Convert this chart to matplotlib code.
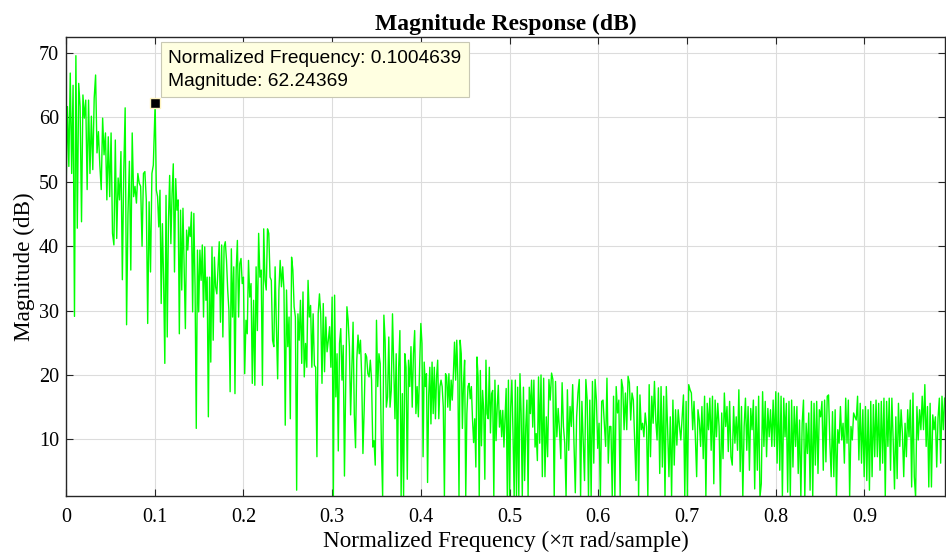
import numpy as np
import matplotlib
matplotlib.use("Agg")
import matplotlib.pyplot as plt

# datatip point
peak_freq = 0.1004639
peak_mag = 62.24369

# magnitude (dB), band by band
band_a = [48.2, 61.7, 52.4, 66.9, 51.3, 65.0, 29.1, 69.6, 42.8, 65.3, 61.7, 43.8, 63.5, 59.9, 62.7, 48.8,
          62.7, 51.3, 60.2, 51.9, 63.0, 66.6, 54.5, 57.8, 52.6, 48.8, 59.9, 54.2, 57.6, 47.2, 57.0, 47.7,
          57.6, 42.0, 40.2, 56.5, 41.2, 50.6, 47.2, 54.7, 34.8, 51.6, 61.5, 27.8, 45.1, 53.2, 36.3, 57.6,
          47.7, 49.3, 46.7, 51.3, 49.8, 49.3, 40.0, 51.3, 51.6, 47.2, 28.0, 46.9, 36.0, 51.3, 52.6]
band_b = [peak_mag, 48.7, 47.7, 43.0, 48.7, 31.1, 43.5, 34.7, 21.8, 47.9, 25.9, 43.8, 51.0, 40.4, 48.2, 52.8,
          36.0, 50.5, 45.6, 47.2, 26.4, 45.6, 33.2, 45.9, 36.8, 27.2, 42.5, 39.4, 43.0, 41.5, 45.3, 29.8,
          45.1, 33.7, 11.7, 39.4, 29.8, 39.4, 34.7, 40.2, 29.0, 39.9, 31.6, 35.2, 13.5, 35.2, 22.0, 39.9,
          25.4, 38.3, 33.7, 32.6, 36.8, 40.7, 28.2, 40.2, 25.9, 39.9, 40.7, 37.8, 33.2, 30.0, 17.4, 39.6,
          29.0, 36.8, 17.1, 36.3, 40.9, 29.0, 37.3, 38.1, 34.2]
band_c = [35.2, 20.2, 28.5, 26.4, 37.8, 32.1, 34.2, 18.7, 31.6, 18.4, 36.8, 26.9, 42.0, 35.2, 36.3, 18.4,
          42.7, 34.7, 33.2, 42.7, 42.0, 35.2, 34.7, 25.4, 24.4, 36.8, 27.5, 19.4, 33.2, 37.8, 33.7, 36.8,
          33.2, 12.2, 33.2, 24.4, 29.0, 13.2, 38.3, 36.3, 30.6, 29.0, 2.1, 29.5, 25.4, 31.6, 21.8, 32.9,
          19.7, 24.9, 21.2, 34.7, 29.0, 30.8, 21.2, 29.5, 21.5, 21.2, 7.3, 29.5, 32.6, 29.5, 18.7, 31.1,
          20.5, 29.0, 23.6, 25.4, 27.5, 21.2]
band_d = [32.1, 1.0, 32.4, 16.6, 23.3, 8.2, 24.9, 27.2, 19.2, 24.6, 4.3, 18.2, 30.6, 28.5, 24.4, 13.8,
          21.2, 28.2, 13.8, 8.7, 22.3, 26.2, 23.3, 25.4, 19.7, 7.8, 14.6, 23.3, 22.8, 20.2, 19.7, 22.3,
          19.2, 8.8, 9.8, 6.0, 28.5, 18.2, 23.3, 21.8, 8.8, 1.0, 29.3, 25.4, 15.0, 16.6, 25.9, 15.0,
          17.6, 29.5, 21.0, 13.2, 23.3, 4.3, 21.2, 26.9, 1.0, 17.1, 1.0, 23.3, 21.2, 3.8, 22.3, 18.2,
          24.4, 15.0, 23.3, 26.9, 14.0, 18.2, 13.5, 21.2]
band_e = [28.0, 24.9, 7.3, 22.0, 18.2, 20.2, 3.3, 16.8, 21.2, 12.4, 22.0, 14.0, 21.2, 13.2, 19.7, 22.3,
          13.2, 18.2, 19.2, 18.2, 15.0, 1.0, 20.2, 19.7, 15.0, 20.2, 14.5, 19.2, 16.1, 20.2, 25.1, 19.2,
          25.4, 19.2, 1.0, 25.4, 23.3, 11.7, 18.7, 22.3, 1.0, 14.0, 18.2, 18.7, 16.3, 18.2, 13.2, 9.5,
          13.2, 5.7, 22.8, 19.7, 1.0, 20.7, 9.0, 17.6, 14.5, 3.8, 22.3, 14.0, 13.2, 21.2, 11.0, 17.1,
          17.6, 1.0, 19.2, 9.8, 15.0, 18.4, 11.9, 14.5, 10.4, 14.5, 8.8, 13.2, 17.9, 1.0, 19.2]
band_f = [1.0, 15.0, 19.2, 10.9, 1.0, 19.2, 1.0, 18.1, 1.0, 20.2, 14.0, 1.0, 18.1, 3.6, 11.9, 16.1,
          1.0, 18.1, 14.0, 19.2, 11.9, 19.2, 8.8, 10.9, 6.7, 19.7]
band_g = [9.4, 20.0, 4.2, 19.5, 4.2, 13.5, 7.3, 19.3, 16.1, 20.3, 19.3, 1.0, 19.0, 10.4, 14.8, 11.5,
          7.0, 18.8, 12.0, 9.4, 1.0, 17.7, 8.3, 15.1, 12.0, 18.5, 9.4, 1.7, 13.5, 17.2, 19.3, 1.0,
          15.9, 9.9, 3.6, 19.3, 16.1, 1.0, 16.1, 1.0, 19.0, 6.3, 19.3, 16.1, 8.6, 12.5, 1.0, 15.9,
          16.1, 12.5, 8.9, 19.5, 6.3, 12.0, 12.0, 1.0, 16.7, 1.0, 18.2, 14.1, 16.1, 1.0, 19.3, 18.0,
          11.5, 17.2, 11.5, 19.8, 18.8, 13.0, 17.2, 16.1, 9.6, 3.6, 18.2, 1.0, 16.9, 11.5, 12.5, 10.4,
          14.1, 12.0, 1.0, 18.5, 7.3, 16.7, 12.5, 19.0, 13.0, 9.9, 18.0, 4.7, 18.2, 5.7, 16.7, 1.0,
          18.2, 11.5, 4.2, 13.5, 1.0, 16.1, 6.0, 14.6, 9.1, 14.6, 12.0, 9.9, 13.5, 16.9, 1.0, 15.9,
          1.0, 18.5, 17.7, 17.2, 11.5, 15.9, 10.4, 4.2, 14.6, 13.0, 8.9, 15.1, 7.0, 16.7, 1.0, 15.6,
          11.5, 16.4, 8.3, 16.7, 3.1, 16.1, 10.4, 15.6, 12.0, 1.0, 14.1, 7.0, 17.2, 12.0, 15.1, 8.1,
          15.9, 7.3, 6.0, 15.1, 9.4, 13.5, 8.3, 17.7, 5.0, 15.1, 1.0, 12.0, 16.4, 8.3, 15.1, 5.2,
          14.8, 11.5, 16.1, 2.3, 15.1, 5.2, 16.7, 1.0, 3.1, 17.4, 8.9, 15.9, 7.3, 14.8, 10.4, 14.6,
          8.9, 16.1, 8.9, 17.4, 6.3, 17.2, 5.2, 16.7, 1.0, 16.4, 10.4, 15.6, 1.8, 15.9, 1.0, 16.1,
          5.7, 15.1, 8.9, 15.1, 4.7, 13.0, 1.0, 12.5, 16.1, 1.0, 12.5, 7.8, 14.1, 2.1, 15.9, 1.0,
          15.6, 6.0, 15.9, 4.7, 14.6, 13.5, 15.9, 5.2, 16.1, 6.5, 16.7, 16.9, 9.4, 4.2, 14.3, 4.2,
          14.6, 1.0, 11.5, 9.4, 15.1, 9.9, 12.5, 6.3, 16.4, 9.4, 16.1, 1.0, 12.0, 9.9, 14.1, 13.5,
          13.0, 16.7, 6.8, 15.6, 6.3, 14.6, 4.2, 15.1, 3.6, 14.6, 2.1, 15.9, 4.2, 15.4, 7.3, 16.1,
          7.3, 15.6, 5.2, 15.9, 6.3, 16.4, 1.0, 15.9, 8.9, 16.4, 5.2, 16.4, 9.9, 2.3, 13.5, 3.9,
          15.6, 8.9, 14.6, 10.9, 4.2, 12.5, 7.3, 14.6, 10.4, 16.1, 2.6, 17.2, 4.2, 1.0, 15.1, 9.9,
          14.6, 11.5, 16.7, 11.5, 18.5, 8.9, 15.1, 2.6, 15.6, 2.6, 13.8, 11.5, 13.5, 5.7, 13.3, 16.4,
          6.3, 16.7, 11.5, 16.4]

# frequency span of each band (x pi rad/sample)
band_starts = [0.0, peak_freq, 0.2, 0.3, 0.4, 0.5, 0.534]
band_ends = [0.1, 0.2, 0.3, 0.4, 0.5, 0.534, 0.992]
bands = [band_a, band_b, band_c, band_d, band_e, band_f, band_g]

freq = np.concatenate([np.linspace(s, e, len(b), endpoint=False)
                       for s, e, b in zip(band_starts, band_ends, bands)])
mag = np.concatenate([np.array(b) for b in bands])

serif = ['Liberation Serif', 'DejaVu Serif']

fig = plt.figure(figsize=(9.46, 5.55), dpi=100)
ax = fig.add_axes([0.0698, 0.1063, 0.9292, 0.827])

ax.plot(freq, mag, color='#00ff00', lw=1.0)

ax.set_xlim(0, 0.991)
ax.set_ylim(1.2, 72.5)
ax.set_xticks(np.arange(0, 1.0, 0.1))
ax.set_xticklabels(['0', '0.1', '0.2', '0.3', '0.4', '0.5', '0.6', '0.7', '0.8', '0.9'])
ax.set_yticks(np.arange(10, 71, 10))

ax.grid(True, color='#dcdcdc', lw=0.8)
ax.set_axisbelow(True)
ax.tick_params(direction='in', top=True, right=True, length=5, width=0.8,
               color='#262626', labelsize=14.5)
ax.tick_params(axis='x', pad=8.5)
ax.tick_params(axis='y', pad=5)
for lab in ax.get_xticklabels() + ax.get_yticklabels():
    lab.set_family(serif)
for sp in ax.spines.values():
    sp.set_color('#262626')
    sp.set_linewidth(1.0)

ax.set_xlabel('Normalized Frequency (\u00d7\u03c0 rad/sample)', family=serif, fontsize=16.7, labelpad=3)
ax.set_ylabel('Magnitude (dB)', family=serif, fontsize=16.7, labelpad=3)
ax.set_title('Magnitude Response (dB)', family=serif, fontsize=17, fontweight='bold', pad=5)

# datatip
ax.plot([peak_freq], [peak_mag], 's', ms=7, color='black', mec='#fff4c0', mew=1.0, zorder=5)
ax.annotate('Normalized Frequency: %.7f\nMagnitude: %.5f' % (peak_freq, peak_mag),
            xy=(peak_freq, peak_mag), xytext=(13, 13), textcoords='offset pixels',
            ha='left', va='bottom', fontsize=13.8, family=['Liberation Sans', 'DejaVu Sans'],
            linespacing=1.5,
            bbox=dict(boxstyle='square,pad=0.38', fc='#ffffe1', ec='#c8c8b4', lw=0.8),
            zorder=6)

fig.savefig('out.png', dpi=100, facecolor='white')
